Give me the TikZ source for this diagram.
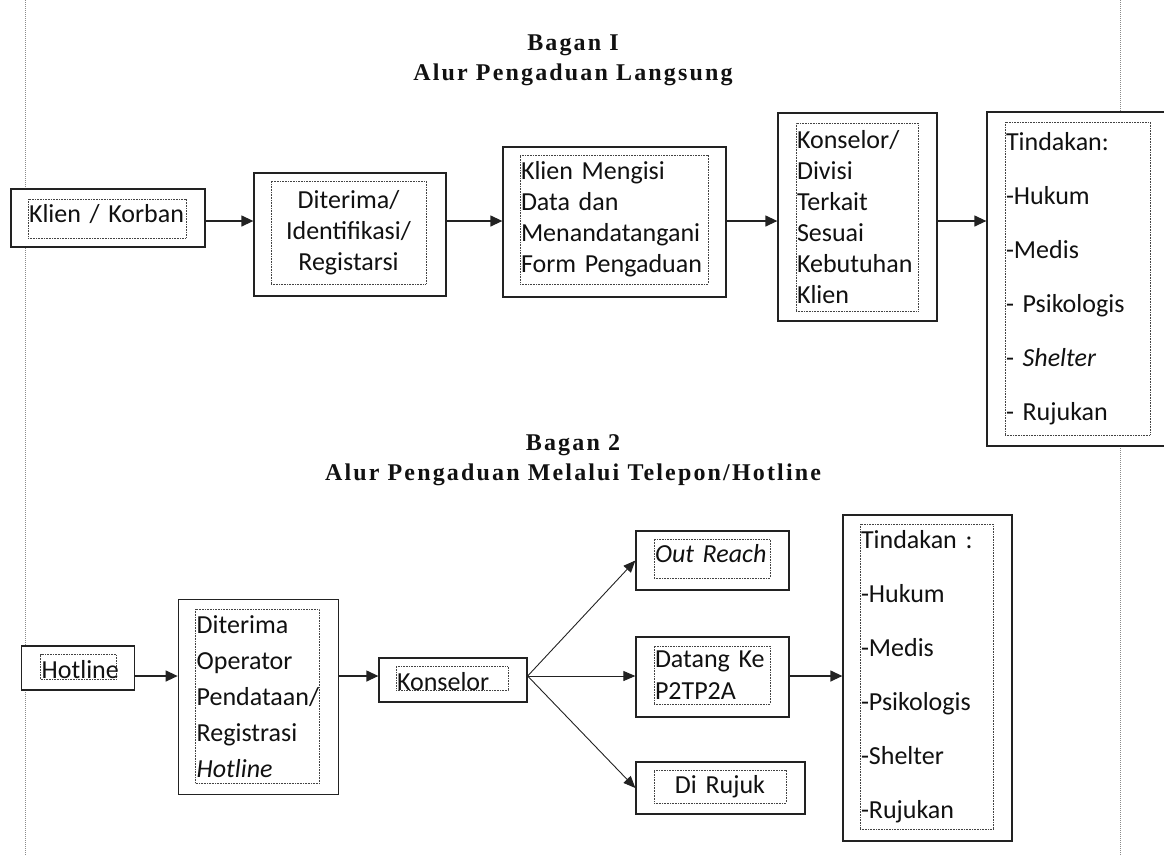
\documentclass[tikz,border=0pt]{standalone}
\usepackage{fontspec}
\setmainfont{Carlito}[WordSpace=0.8]
\newfontfamily\titlefont[LetterSpace=9]{Liberation Serif}
\usetikzlibrary{arrows.meta}
\definecolor{LineInk}{HTML}{222222}
\definecolor{TextInk}{HTML}{111111}
\definecolor{PageGray}{HTML}{8A8A8A}
\hyphenpenalty=10000
\exhyphenpenalty=10000

\begin{document}
\begin{tikzpicture}[x=1pt, y=-1pt,
    every node/.style={font=\fontsize{26}{31}\selectfont, text=TextInk},
    box/.style={draw=LineInk, fill=white, line width=1.3pt, inner sep=0pt},
    tag/.style={draw=LineInk!85, dash pattern=on 0.8pt off 0.8pt, line width=0.8pt,
                inner xsep=1pt, inner ysep=0pt, align=left},
    oneline/.style={text height=#1, text depth=0pt},
    flow/.style={draw=LineInk, line width=1.3pt, -{Triangle[length=12pt,width=11pt]}},
    branch/.style={draw=LineInk, line width=0.9pt, -{Triangle[length=12pt,width=10pt]}},
    heading/.style={font=\titlefont\bfseries\fontsize{24}{30}\selectfont, align=center}]
  \useasboundingbox (0,0) rectangle (1164,855);
  \clip (0,0) rectangle (1164,855);

  % page margins
  \draw[PageGray, line width=1pt, dash pattern=on 1pt off 1pt] (25,0) -- (25,855);
  \draw[PageGray, line width=1pt, dash pattern=on 1pt off 1pt] (1120,0) -- (1120,855);

  % headings
  \node[heading] (title1) at (573,60) {Bagan I\\Alur Pengaduan Langsung};
  \node[heading] (title2) at (573,460) {Bagan 2\\Alur Pengaduan Melalui Telepon/Hotline};

  % Bagan I: frames
  \node[box, minimum width=194pt, minimum height=58pt]  (klien)     at (108,218)    {};
  \node[box, minimum width=192pt, minimum height=123pt] (diterima)  at (350,234.5)  {};
  \node[box, minimum width=223pt, minimum height=150pt] (mengisi)   at (614.5,222)  {};
  \node[box, minimum width=159pt, minimum height=208pt] (divisi)    at (857.5,217)  {};
  \node[box, minimum width=181pt, minimum height=334pt] (tindakanA) at (1077.5,279) {};

  % Bagan I: texts
  \node[tag, oneline=8.4pt, minimum width=158pt, minimum height=39pt, text width=156pt]
    (klienT) at (107,218.5) {Klien / Korban};
  \node[tag, align=center, minimum width=155pt, minimum height=103pt, text width=153pt]
    (diterimaT) at (348.5,232.5) {Diterima/\\Identifikasi/\\Registarsi};
  \node[tag, minimum width=188pt, minimum height=129pt, text width=186pt]
    (mengisiT) at (614,219.5) {Klien Mengisi\\Data dan\\Menandatangani\\Form Pengaduan};
  \node[tag, minimum width=122pt, minimum height=188pt, text width=120pt]
    (divisiT) at (857,217) {Konselor/\\Divisi\\Terkait\\Sesuai\\Kebutuhan\\Klien};
  \node[tag, font=\fontsize{26}{54}\selectfont, minimum width=145pt, minimum height=313pt, text width=143pt]
    (tindakanAT) at (1077.5,278.5)
    {Tindakan:\\-Hukum\\-Medis\\- Psikologis\\- \textit{Shelter}\\- Rujukan};

  % Bagan I: arrows
  \coordinate (row1) at (0,221);
  \draw[flow] (klien.east |- row1)    -- (diterima.west |- row1);
  \draw[flow] (diterima.east |- row1) -- (mengisi.west |- row1);
  \draw[flow] (mengisi.east |- row1)  -- (divisi.west |- row1);
  \draw[flow] (divisi.east |- row1)   -- (tindakanA.west |- row1);

  % Bagan 2: frames
  \node[box, minimum width=113pt, minimum height=44pt]  (hotline)   at (78.3,668)   {};
  \node[box, minimum width=160pt, minimum height=195pt] (operator)  at (258.3,696.8) {};
  \node[box, minimum width=148pt, minimum height=44pt]  (konselor)  at (453,680)    {};
  \node[box, minimum width=153pt, minimum height=59pt]  (outreach)  at (712.5,560.5) {};
  \node[box, minimum width=153pt, minimum height=80pt]  (datang)    at (712.5,677)  {};
  \node[box, minimum width=169pt, minimum height=52pt]  (rujuk)     at (720.5,788)  {};
  \node[box, minimum width=169pt, minimum height=326pt] (tindakanB) at (927.5,678)  {};

  % Bagan 2: texts
  \node[tag, oneline=23pt, minimum width=76pt, minimum height=24.3pt, text width=74pt]
    (hotlineT) at (78.7,666.8) {Hotline};
  \node[tag, font=\fontsize{26}{36}\selectfont, minimum width=123.6pt, minimum height=174pt, text width=121.6pt]
    (operatorT) at (257.5,696.3) {Diterima\\Operator\\Pendataan/\\Registrasi\\\textit{Hotline}};
  \node[tag, oneline=23.4pt, minimum width=112pt, minimum height=23.3pt, text width=110pt]
    (konselorT) at (452,678.3) {Konselor};
  \node[tag, oneline=8.4pt, minimum width=116pt, minimum height=39pt, text width=114pt]
    (outreachT) at (712,558.5) {\textit{Out Reach}};
  \node[tag, font=\fontsize{26}{32}\selectfont, minimum width=116pt, minimum height=58pt, text width=114pt]
    (datangT) at (712,675) {Datang Ke\\P2TP2A};
  \node[tag, oneline=13pt, align=center, minimum width=132pt, minimum height=33pt, text width=130pt]
    (rujukT) at (720,786.5) {Di Rujuk};
  \node[tag, font=\fontsize{26}{54}\selectfont, minimum width=133pt, minimum height=305pt, text width=131pt]
    (tindakanBT) at (926.5,676.5)
    {Tindakan :\\-Hukum\\-Medis\\-Psikologis\\-Shelter\\-Rujukan};

  % Bagan 2: arrows
  \coordinate (row2) at (0,676);
  \draw[flow] (hotline.east |- row2)  -- (operator.west |- row2);
  \draw[flow] (operator.east |- row2) -- (konselor.west |- row2);
  \draw[branch] (konselor.east |- row2) -- (outreach.west);
  \draw[branch] (konselor.east |- row2) -- (datang.west |- row2);
  \draw[branch] (konselor.east |- row2) -- (rujuk.west);
  \draw[flow] (datang.east |- row2)   -- (tindakanB.west |- row2);
\end{tikzpicture}
\end{document}
